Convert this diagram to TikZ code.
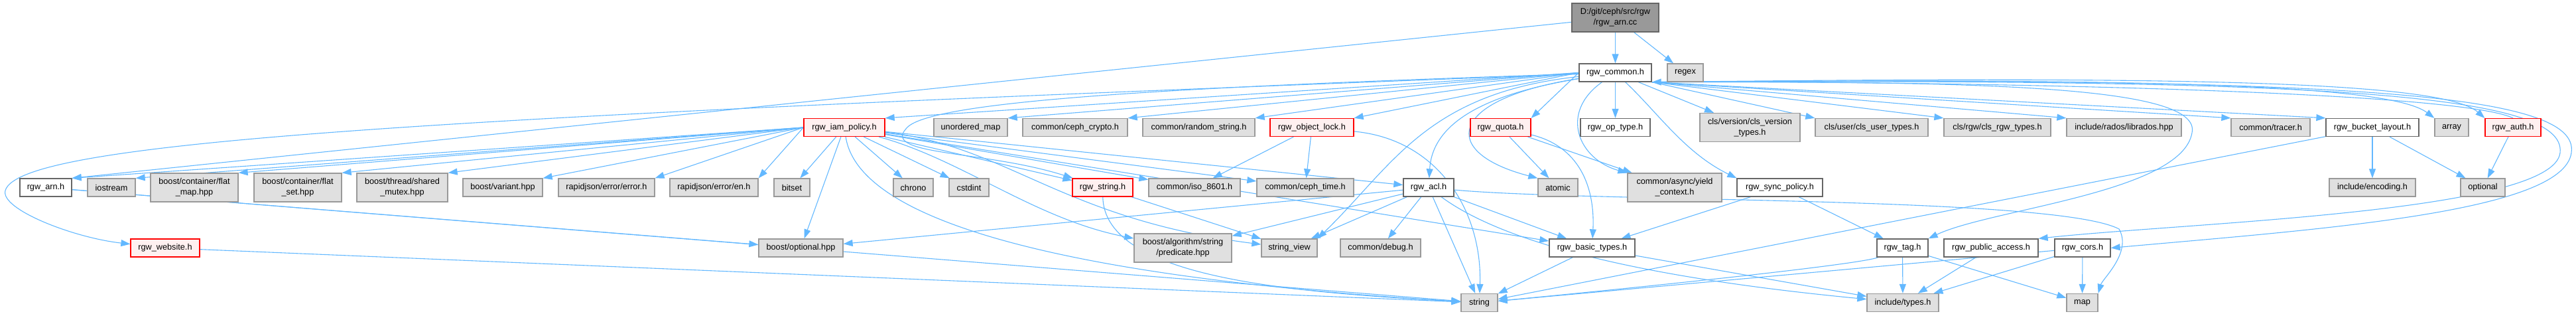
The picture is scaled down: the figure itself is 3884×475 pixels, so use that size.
\documentclass[tikz,border=0pt]{standalone}
\usepackage{fontspec}
\setmainfont{Liberation Sans}
\usetikzlibrary{arrows.meta,backgrounds}

\definecolor{edgeblue}{HTML}{63B8FF}
\definecolor{sysfill}{HTML}{E0E0E0}
\definecolor{sysline}{HTML}{999999}
\definecolor{usrline}{HTML}{666666}
\definecolor{truncfill}{HTML}{FFF0F0}

\begin{document}
\begin{tikzpicture}[x=1pt, y=-1pt, >={Triangle[length=14pt,width=10pt]},
  hdr/.style={line width=1.3pt, inner sep=0pt, minimum height=27pt, align=center,
    font=\fontsize{12.7}{15.7}\selectfont},
  usr/.style={hdr, draw=usrline, fill=white},
  sys/.style={hdr, draw=sysline, fill=sysfill},
  trunc/.style={hdr, draw=red, fill=truncfill},
  root/.style={hdr, draw=usrline, fill=sysline},
  dep/.style={->, draw=edgeblue, line width=1.1pt}]
  \useasboundingbox (0,0) rectangle (3884,475);

  \node[root, minimum width=131pt, minimum height=43pt] (arncc) at (2435.5,26.5) {D:/git/ceph/src/rgw\\/rgw\_arn.cc};

  \node[usr, minimum width=109pt] (common) at (2435.5,109.5) {rgw\_common.h};
  \node[sys, minimum width=54pt] (regex) at (2541,109.5) {regex};

  \node[trunc, minimum width=122pt] (iampol) at (1273,192) {rgw\_iam\_policy.h};
  \node[sys, minimum width=111pt] (unmap) at (1463.5,192) {unordered\_map};
  \node[sys, minimum width=158pt] (crypto) at (1621,192) {common/ceph\_crypto.h};
  \node[sys, minimum width=169pt] (randstr) at (1807.5,192) {common/random\_string.h};
  \node[trunc, minimum width=126pt] (objlock) at (1978,192) {rgw\_object\_lock.h};
  \node[trunc, minimum width=91pt] (quota) at (2262.5,192) {rgw\_quota.h};
  \node[usr, minimum width=105pt] (optype) at (2435.5,192) {rgw\_op\_type.h};
  \node[sys, minimum width=151pt, minimum height=43pt] (clsver) at (2638.5,192) {cls/version/cls\_version\\\_types.h};
  \node[sys, minimum width=170pt] (clsuser) at (2822,192) {cls/user/cls\_user\_types.h};
  \node[sys, minimum width=161pt] (clsrgw) at (3011.5,192) {cls/rgw/cls\_rgw\_types.h};
  \node[sys, minimum width=173pt] (librados) at (3202.5,192) {include/rados/librados.hpp};
  \node[sys, minimum width=119pt] (tracer) at (3423.5,192) {common/tracer.h};
  \node[usr, minimum width=140pt] (bktlayout) at (3577,192) {rgw\_bucket\_layout.h};
  \node[sys, minimum width=51pt] (array) at (3696.5,192) {array};
  \node[trunc, minimum width=84pt] (auth) at (3789,192) {rgw\_auth.h};

  \node[usr, minimum width=78pt] (arnh) at (69,282.5) {rgw\_arn.h};
  \node[sys, minimum width=72pt] (iostream) at (168,282.5) {iostream};
  \node[sys, minimum width=132pt, minimum height=43pt] (flatmap) at (293,282.5) {boost/container/flat\\\_map.hpp};
  \node[sys, minimum width=132pt, minimum height=43pt] (flatset) at (449,282.5) {boost/container/flat\\\_set.hpp};
  \node[sys, minimum width=137pt, minimum height=43pt] (sharedmutex) at (606.5,282.5) {boost/thread/shared\\\_mutex.hpp};
  \node[sys, minimum width=120pt] (variant) at (758,282.5) {boost/variant.hpp};
  \node[sys, minimum width=145pt] (rjerror) at (914.5,282.5) {rapidjson/error/error.h};
  \node[sys, minimum width=133pt] (rjen) at (1076.5,282.5) {rapidjson/error/en.h};
  \node[sys, minimum width=54pt] (bitset) at (1194,282.5) {bitset};
  \node[sys, minimum width=60pt] (chrono) at (1377,282.5) {chrono};
  \node[sys, minimum width=60pt] (cstdint) at (1461,282.5) {cstdint};
  \node[trunc, minimum width=91pt] (rgwstring) at (1662.5,282.5) {rgw\_string.h};
  \node[sys, minimum width=138pt] (iso8601) at (1801,282.5) {common/iso\_8601.h};
  \node[sys, minimum width=146pt] (cephtime) at (1968,282.5) {common/ceph\_time.h};
  \node[usr, minimum width=76pt] (acl) at (2154,282.5) {rgw\_acl.h};
  \node[sys, minimum width=60pt] (atomic) at (2349,282.5) {atomic};
  \node[sys, minimum width=142pt, minimum height=43pt] (yield) at (2525,282.5) {common/async/yield\\\_context.h};
  \node[usr, minimum width=129pt] (syncpol) at (2683.5,282.5) {rgw\_sync\_policy.h};
  \node[sys, minimum width=130pt] (encoding) at (3577,282.5) {include/encoding.h};
  \node[sys, minimum width=67pt] (optional) at (3743.5,282.5) {optional};

  \node[trunc, minimum width=104pt] (website) at (249,373.5) {rgw\_website.h};
  \node[sys, minimum width=127pt] (boostopt) at (1207.5,373.5) {boost/optional.hpp};
  \node[sys, minimum width=147pt, minimum height=43pt] (predicate) at (1783.5,373.5) {boost/algorithm/string\\/predicate.hpp};
  \node[sys, minimum width=84pt] (strview) at (1944,373.5) {string\_view};
  \node[sys, minimum width=121pt] (debug) at (2081.5,373.5) {common/debug.h};
  \node[usr, minimum width=129pt] (basictypes) at (2400.5,373.5) {rgw\_basic\_types.h};
  \node[usr, minimum width=77pt] (tag) at (2868.5,373.5) {rgw\_tag.h};
  \node[usr, minimum width=142pt] (pubaccess) at (3002,373.5) {rgw\_public\_access.h};
  \node[usr, minimum width=84pt] (cors) at (3140,373.5) {rgw\_cors.h};

  \node[sys, minimum width=55pt] (string) at (2230.5,456) {string};
  \node[sys, minimum width=108pt] (types) at (2869,456) {include/types.h};
  \node[sys, minimum width=47pt] (map) at (3139.5,456) {map};

  \begin{pgfonlayer}{background}
  \draw[dep] (arncc) -- (arnh.north east);
  \draw[dep] (arncc) -- (common);
  \draw[dep] (arncc) -- (regex);

  \foreach \dst in {iampol,unmap,crypto,randstr,objlock,quota}
    \draw[dep] (common.west) -- (\dst.north east);
  \foreach \dst in {clsuser,clsrgw,librados,tracer,bktlayout}
    \draw[dep] (common.south east) -- (\dst.north west);
  \foreach \dst in {optype,clsver}
    \draw[dep] (common) -- (\dst);
  \draw[dep] (common.south east) .. controls (3200,118) and (3600,125) .. (array.north west);
  \draw[dep] (common.south east) .. controls (3250,115) and (3680,120) .. (auth.north west);
  \draw[dep] (common) .. controls (2500,170) and (2540,230) .. (syncpol.north west);
  \draw[dep] (common) .. controls (700,175) and (30,210) .. (8,287)
    .. controls (0,315) and (110,358) .. (website);
  \draw[dep] (common) .. controls (1800,130) and (1420,150) .. (1370,190)
    .. controls (1320,235) and (1480,225) .. (rgwstring);
  \draw[dep] (common) .. controls (2250,140) and (2160,180) .. (acl);
  \draw[dep] (common) .. controls (2180,150) and (2170,230) .. (atomic.north west);
  \draw[dep] (common) .. controls (2150,140) and (2100,250) .. (strview.north east);
  \draw[dep] (common) .. controls (2350,170) and (2380,240) .. (yield.north west);
  \draw[dep] (common.south east) .. controls (3000,122) and (3320,130) .. (3305,200)
    .. controls (3290,290) and (3000,315) .. (tag.north east);
  \draw[dep] (common.south east) .. controls (3500,118) and (3870,140) .. (3860,230)
    .. controls (3850,320) and (3300,335) .. (pubaccess.north east);
  \draw[dep] (common.south east) .. controls (3550,116) and (3890,140) .. (3877,230)
    .. controls (3865,320) and (3500,345) .. (cors.east);
  \draw[dep] (auth.north) .. controls (3700,135) and (2900,122) .. (common.south east);

  \foreach \dst in {arnh,iostream,flatmap,flatset,sharedmutex,variant,rjerror,rjen}
    \draw[dep] (iampol.west) -- (\dst.north east);
  \foreach \dst in {bitset,boostopt,chrono,cstdint,rgwstring,iso8601,cephtime,acl,basictypes}
    \draw[dep] (iampol) -- (\dst);
  \draw[dep] (iampol) .. controls (1300,370) and (1800,430) .. (string);
  \draw[dep] (iampol) .. controls (1450,240) and (1560,330) .. (predicate);
  \draw[dep] (iampol) .. controls (1520,220) and (1600,330) .. (strview);

  \draw[dep] (objlock) -- (iso8601);
  \draw[dep] (objlock) -- (cephtime);
  \draw[dep] (objlock) .. controls (2170,210) and (2235,320) .. (string);

  \draw[dep] (quota) -- (atomic);
  \draw[dep] (quota) -- (yield);
  \draw[dep] (quota) .. controls (2380,220) and (2405,280) .. (basictypes);

  \draw[dep] (arnh) -- (boostopt);
  \draw[dep] (arnh) -- (string);
  \draw[dep] (website) -- (string);

  \draw[dep] (rgwstring) -- (strview);
  \draw[dep] (rgwstring) .. controls (1665,420) and (1950,440) .. (string);

  \foreach \dst in {boostopt,predicate,strview,debug,string,basictypes}
    \draw[dep] (acl) -- (\dst);
  \draw[dep] (acl) .. controls (2300,390) and (2600,430) .. (types);
  \draw[dep] (acl) .. controls (2400,305) and (3100,295) .. (3195,345)
    .. controls (3215,380) and (3170,420) .. (map.north east);

  \draw[dep] (basictypes) -- (string);
  \draw[dep] (basictypes) -- (types);
  \draw[dep] (syncpol) -- (basictypes);
  \draw[dep] (syncpol) -- (tag);
  \draw[dep] (tag) -- (types);
  \draw[dep] (tag) -- (map);
  \draw[dep] (tag) .. controls (2800,400) and (2400,440) .. (string);
  \draw[dep] (pubaccess) -- (types);
  \draw[dep] (cors) -- (types);
  \draw[dep] (cors) -- (map);
  \draw[dep] (cors) -- (string);
  \draw[dep] (bktlayout) -- (encoding);
  \draw[dep] (bktlayout) -- (optional);
  \draw[dep] (bktlayout) -- (string);
  \draw[dep] (auth) -- (optional);
  \end{pgfonlayer}
\end{tikzpicture}
\end{document}
